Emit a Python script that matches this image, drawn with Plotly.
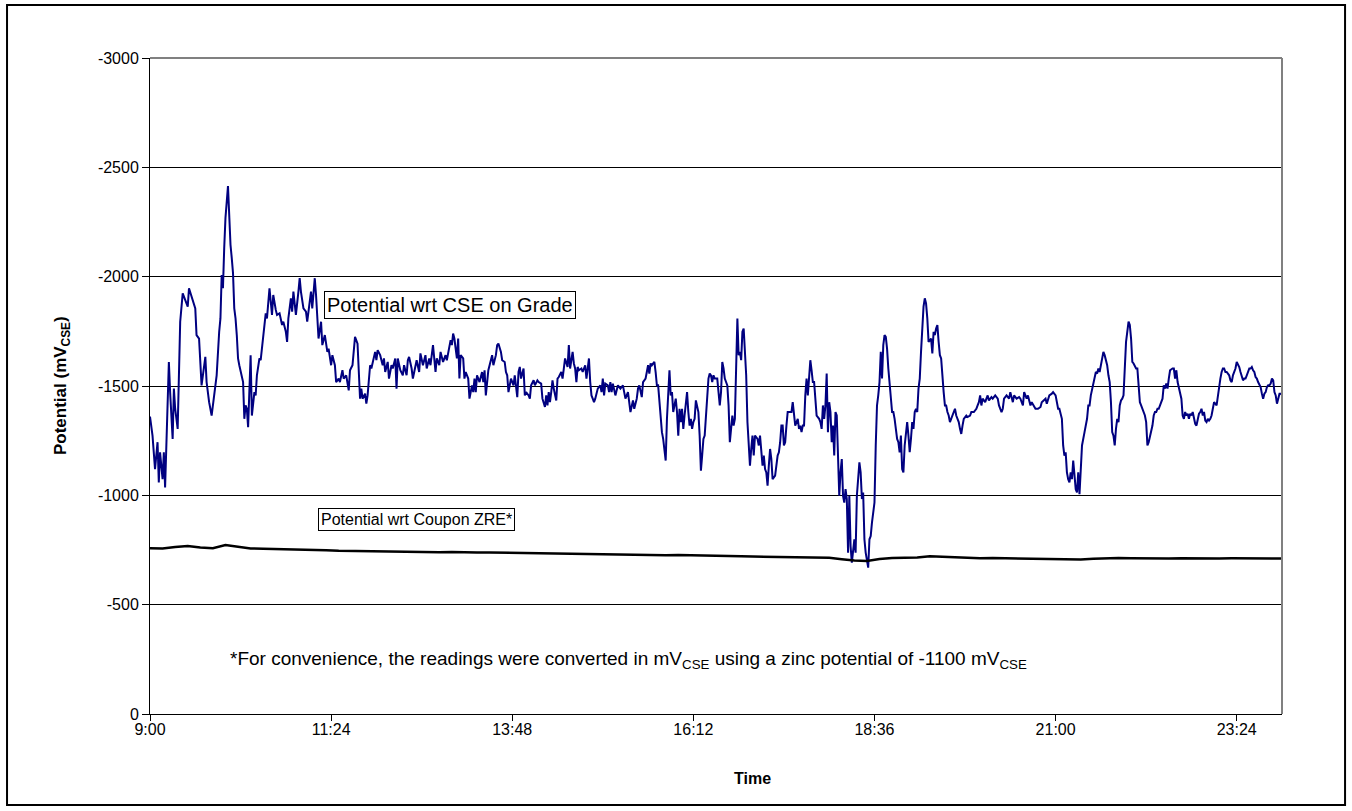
import pandas as pd
import plotly.graph_objects as go

# Pipe-to-soil potential logged from 09:00, elapsed time in minutes
grade_minutes = [
    0, 2, 4, 6, 7, 8, 10, 11, 12, 14, 15, 16, 18, 19, 20, 22, 23, 24, 26, 28,
    30, 31, 34, 36, 37, 39, 41, 43, 44, 45, 47, 49, 51, 53, 55, 56, 57, 58, 59, 60,
    62, 63, 64, 65, 66, 67, 68, 69, 70, 71, 73, 74, 75, 76, 77, 78, 80, 81, 83, 84,
    85, 87, 88, 89, 90, 92, 93, 95, 97, 98, 100, 101, 103, 105, 106, 108, 109, 110, 112, 113,
    114, 116, 118, 119, 120, 122, 124, 125, 126, 128, 129, 131, 132, 133, 134, 136, 137, 139, 141, 142,
    144, 145, 147, 148, 150, 151, 153, 154, 156, 158, 159, 161, 162, 163, 165, 166, 167, 168, 169, 171,
    172, 173, 175, 176, 178, 179, 180, 181, 183, 185, 186, 187, 189, 190, 192, 193, 195, 196, 197, 199,
    201, 202, 204, 205, 206, 208, 209, 211, 212, 214, 215, 217, 219, 220, 222, 223, 225, 227, 228, 230,
    231, 233, 235, 236, 238, 239, 240, 241, 242, 244, 245, 246, 247, 249, 250, 251, 253, 254, 256, 257,
    258, 259, 260, 262, 264, 265, 266, 267, 269, 270, 272, 273, 275, 276, 277, 279, 280, 282, 283, 284,
    285, 287, 289, 290, 292, 293, 294, 295, 297, 298, 299, 301, 302, 303, 305, 306, 308, 309, 311, 312,
    314, 315, 316, 317, 318, 319, 320, 321, 323, 324, 325, 327, 328, 329, 330, 332, 333, 334, 335, 336,
    337, 338, 339, 340, 341, 343, 344, 346, 347, 349, 350, 351, 352, 353, 354, 356, 358, 359, 360, 361,
    362, 364, 365, 366, 367, 368, 370, 371, 372, 374, 376, 377, 378, 380, 381, 382, 384, 385, 387, 388,
    389, 391, 392, 394, 395, 396, 397, 398, 399, 401, 402, 403, 404, 405, 406, 407, 408, 410, 411, 412,
    413, 414, 415, 416, 417, 418, 419, 420, 421, 422, 423, 424, 425, 427, 428, 429, 430, 431, 432, 433,
    434, 436, 437, 438, 439, 440, 441, 442, 443, 444, 445, 446, 447, 448, 449, 451, 452, 453, 454, 455,
    456, 457, 459, 460, 461, 463, 464, 465, 466, 467, 468, 469, 470, 471, 472, 473, 474, 475, 476, 477,
    478, 479, 480, 481, 483, 484, 485, 486, 487, 488, 489, 490, 491, 492, 493, 494, 495, 497, 498, 499,
    500, 501, 502, 503, 504, 505, 506, 507, 508, 509, 510, 511, 512, 513, 515, 516, 517, 518, 519, 520,
    521, 522, 523, 524, 525, 526, 527, 528, 529, 530, 532, 533, 534, 535, 536, 537, 538, 539, 540, 541,
    542, 543, 544, 545, 546, 547, 548, 549, 550, 551, 552, 553, 554, 555, 556, 557, 558, 560, 561, 562,
    563, 564, 565, 566, 567, 568, 569, 570, 571, 572, 573, 574, 576, 577, 578, 579, 580, 581, 582, 583,
    584, 585, 586, 587, 588, 589, 590, 591, 592, 594, 595, 596, 597, 598, 599, 600, 601, 602, 603, 604,
    605, 606, 607, 608, 609, 610, 611, 612, 613, 614, 615, 616, 617, 618, 619, 621, 622, 623, 624, 625,
    626, 627, 628, 629, 630, 631, 632, 633, 634, 635, 636, 638, 639, 640, 641, 642, 643, 644, 645, 646,
    647, 649, 650, 652, 653, 655, 657, 658, 659, 660, 661, 662, 664, 665, 666, 667, 669, 670, 672, 674,
    675, 677, 678, 679, 681, 683, 684, 686, 687, 689, 691, 692, 694, 695, 697, 698, 700, 701, 703, 704,
    706, 708, 709, 711, 712, 713, 715, 717, 718, 720, 721, 722, 723, 725, 726, 727, 728, 729, 730, 731,
    732, 733, 734, 735, 736, 737, 738, 739, 740, 741, 743, 744, 745, 746, 747, 748, 749, 750, 751, 752,
    753, 754, 755, 756, 757, 758, 759, 761, 762, 763, 764, 765, 766, 767, 768, 769, 770, 771, 772, 773,
    774, 775, 776, 778, 779, 780, 781, 782, 783, 784, 785, 786, 787, 788, 789, 790, 791, 792, 793, 794,
    796, 797, 798, 799, 800, 801, 802, 803, 804, 805, 806, 807, 808, 809, 810, 811, 813, 814, 815, 816,
    817, 818, 819, 820, 821, 822, 823, 824, 825, 826, 827, 828, 829, 831, 832, 833, 834, 835, 836, 837,
    838, 839, 840, 841, 842, 843, 844, 845, 846, 848, 849, 850, 851, 852, 853, 854, 855, 856, 857, 858,
    859, 860, 861, 862, 863, 864, 866, 867, 868, 869, 870, 871, 872, 873, 874, 875, 876, 877, 878, 879,
    880, 881, 883, 884, 885, 886, 887, 888, 889, 890, 891, 892, 893, 894, 895, 896, 897, 898, 899, 900,
]
grade_mv = [
    -1360, -1273, -1120, -1243, -1059, -1197, -1074, -1197, -1036, -1442, -1610, -1472, -1258, -1488, -1396, -1304, -1610, -1794, -1924, -1893,
    -1863, -1947, -1886, -1855, -1733, -1717, -1503, -1595, -1633, -1518, -1426, -1365, -1472, -1549, -1748, -1809, -2008, -1947, -2131, -2269,
    -2414, -2253, -2146, -2085, -2016, -1855, -1809, -1733, -1626, -1595, -1534, -1518, -1350, -1411, -1396, -1312, -1641, -1365, -1472, -1457,
    -1549, -1626, -1618, -1671, -1702, -1832, -1809, -1947, -1825, -1916, -1848, -1825, -1832, -1779, -1794, -1748, -1702, -1809, -1901, -1840,
    -1932, -1825, -1932, -1993, -1932, -1855, -1840, -1794, -1840, -1932, -1855, -1993, -1916, -1779, -1717, -1794, -1687, -1733, -1656, -1671,
    -1595, -1641, -1595, -1518, -1534, -1518, -1572, -1534, -1549, -1480, -1572, -1595, -1687, -1725, -1694, -1595, -1442, -1488, -1442, -1465,
    -1419, -1457, -1595, -1580, -1641, -1656, -1618, -1664, -1641, -1595, -1626, -1564, -1610, -1534, -1595, -1580, -1626, -1488, -1626, -1572,
    -1549, -1595, -1549, -1618, -1633, -1580, -1534, -1595, -1618, -1564, -1649, -1595, -1641, -1580, -1626, -1595, -1687, -1564, -1626, -1595,
    -1656, -1610, -1641, -1618, -1671, -1710, -1687, -1740, -1717, -1626, -1717, -1534, -1641, -1626, -1534, -1564, -1534, -1442, -1503, -1472,
    -1534, -1472, -1549, -1518, -1564, -1518, -1572, -1457, -1572, -1595, -1641, -1595, -1641, -1687, -1694, -1656, -1618, -1610, -1564, -1549,
    -1472, -1534, -1503, -1549, -1449, -1564, -1587, -1534, -1580, -1457, -1472, -1457, -1442, -1503, -1526, -1503, -1526, -1518, -1511, -1442,
    -1404, -1457, -1411, -1472, -1426, -1472, -1526, -1488, -1434, -1534, -1541, -1564, -1534, -1580, -1626, -1587, -1687, -1580, -1626, -1656,
    -1603, -1580, -1518, -1587, -1572, -1580, -1564, -1595, -1534, -1626, -1518, -1457, -1442, -1426, -1442, -1488, -1503, -1472, -1534, -1457,
    -1511, -1503, -1472, -1518, -1472, -1511, -1457, -1488, -1503, -1488, -1503, -1472, -1442, -1472, -1426, -1381, -1434, -1396, -1442, -1488,
    -1503, -1449, -1518, -1534, -1564, -1595, -1557, -1603, -1595, -1610, -1564, -1503, -1503, -1426, -1350, -1289, -1258, -1159, -1350, -1472,
    -1572, -1457, -1472, -1381, -1411, -1442, -1381, -1273, -1396, -1335, -1396, -1304, -1365, -1472, -1381, -1319, -1350, -1304, -1335, -1350,
    -1434, -1381, -1273, -1113, -1182, -1258, -1273, -1365, -1457, -1534, -1557, -1549, -1518, -1549, -1534, -1534, -1472, -1411, -1472, -1610,
    -1580, -1534, -1503, -1411, -1243, -1365, -1319, -1350, -1580, -1809, -1641, -1656, -1618, -1748, -1763, -1656, -1549, -1335, -1197, -1136,
    -1212, -1273, -1182, -1273, -1258, -1228, -1273, -1197, -1136, -1182, -1120, -1105, -1044, -1136, -1212, -1166, -1074, -1090, -1136, -1182,
    -1197, -1243, -1319, -1319, -1228, -1243, -1319, -1381, -1381, -1381, -1381, -1426, -1350, -1319, -1350, -1304, -1319, -1289, -1319, -1319,
    -1457, -1534, -1457, -1564, -1618, -1572, -1518, -1518, -1442, -1365, -1350, -1335, -1304, -1411, -1350, -1411, -1557, -1289, -1426, -1381,
    -1243, -1319, -1182, -1381, -1365, -1182, -998, -1105, -1166, -998, -967, -1028, -983, -738, -998, -768, -692, -799, -738, -998,
    -1074, -1151, -1105, -983, -1013, -799, -738, -707, -669, -799, -814, -875, -967, -1228, -1411, -1457, -1518, -1656, -1534, -1687,
    -1733, -1725, -1671, -1580, -1518, -1442, -1381, -1381, -1350, -1258, -1243, -1197, -1273, -1120, -1105, -1228, -1273, -1335, -1273, -1197,
    -1258, -1335, -1304, -1381, -1396, -1381, -1488, -1534, -1656, -1794, -1863, -1901, -1878, -1809, -1702, -1717, -1649, -1748, -1733, -1763,
    -1779, -1702, -1641, -1626, -1534, -1472, -1411, -1411, -1381, -1365, -1335, -1365, -1381, -1396, -1365, -1350, -1335, -1304, -1281, -1319,
    -1350, -1365, -1358, -1365, -1381, -1381, -1396, -1411, -1426, -1457, -1411, -1442, -1426, -1442, -1457, -1434, -1449, -1442, -1457, -1442,
    -1411, -1381, -1396, -1442, -1457, -1442, -1472, -1426, -1457, -1442, -1449, -1442, -1411, -1472, -1442, -1457, -1411, -1426, -1404, -1396,
    -1396, -1404, -1426, -1434, -1442, -1419, -1457, -1465, -1472, -1457, -1426, -1396, -1396, -1350, -1228, -1182, -1197, -1105, -1074, -1059,
    -1105, -1074, -1159, -1105, -1028, -1013, -1105, -1005, -1105, -1228, -1289, -1319, -1350, -1411, -1411, -1457, -1488, -1518, -1534, -1564,
    -1557, -1580, -1564, -1595, -1626, -1656, -1641, -1595, -1549, -1518, -1426, -1289, -1273, -1228, -1304, -1350, -1335, -1411, -1434, -1442,
    -1457, -1580, -1702, -1794, -1779, -1717, -1610, -1603, -1587, -1580, -1580, -1503, -1426, -1411, -1396, -1381, -1365, -1335, -1228, -1243,
    -1289, -1319, -1365, -1381, -1381, -1396, -1396, -1411, -1426, -1442, -1503, -1488, -1511, -1488, -1534, -1572, -1580, -1580, -1534, -1572,
    -1518, -1488, -1457, -1442, -1365, -1350, -1381, -1365, -1373, -1350, -1373, -1365, -1381, -1327, -1319, -1342, -1373, -1381, -1396, -1365,
    -1381, -1342, -1335, -1350, -1342, -1350, -1365, -1396, -1426, -1411, -1457, -1488, -1534, -1564, -1580, -1580, -1564, -1564, -1557, -1549,
    -1526, -1518, -1549, -1564, -1580, -1610, -1587, -1564, -1541, -1526, -1534, -1534, -1549, -1564, -1580, -1580, -1587, -1572, -1564, -1541,
    -1534, -1518, -1495, -1465, -1442, -1465, -1472, -1495, -1503, -1503, -1511, -1534, -1526, -1472, -1457, -1419, -1442, -1465, -1465, -1460,
]

# Coupon reading (zinc reference), converted to mV CSE, every 10 minutes
coupon_minutes = list(range(0, 901, 10))
coupon_mv = [
    -758, -757, -764, -768, -761, -758, -773, -765, -757, -756,
    -755, -754, -753, -752, -749, -746, -745, -744, -745, -743,
    -742, -743, -741, -740, -741, -739, -738, -739, -738, -737,
    -736, -735, -733, -734, -731, -730, -731, -729, -728, -729,
    -727, -726, -727, -725, -724, -723, -722, -721, -720, -720,
    -719, -720, -718, -717, -714, -708, -702, -700, -709, -713,
    -714, -716, -721, -719, -714, -713, -712, -713, -712, -713,
    -712, -711, -709, -706, -707, -710, -712, -713, -712, -711,
    -712, -711, -712, -711, -712, -711, -712, -711, -712, -711,
    -711,
]

time_ticks = ["9:00", "11:24", "13:48", "16:12", "18:36", "21:00", "23:24"]
y_ticks = [0, -500, -1000, -1500, -2000, -2500, -3000]

start = pd.Timestamp("2000-01-01 09:00")
grade_t = start + pd.to_timedelta(grade_minutes, unit="min")
coupon_t = start + pd.to_timedelta(coupon_minutes, unit="min")
tick_t = [start + pd.Timedelta(minutes=144 * i) for i in range(len(time_ticks))]
end_t = start + pd.Timedelta(hours=15)

FONT = "Arial, Liberation Sans, sans-serif"

fig = go.Figure()
fig.add_trace(go.Scatter(
    x=grade_t, y=grade_mv, mode="lines",
    line=dict(color="#000080", width=2), showlegend=False,
))
fig.add_trace(go.Scatter(
    x=coupon_t, y=coupon_mv, mode="lines",
    line=dict(color="#000000", width=2.5), showlegend=False,
))

fig.update_layout(
    width=1352, height=811,
    margin=dict(l=150, r=70, t=58, b=97),
    paper_bgcolor="white", plot_bgcolor="white",
    font=dict(family=FONT, size=16, color="black"),
    xaxis=dict(
        range=[start, end_t], tickvals=tick_t, ticktext=time_ticks,
        ticks="outside", ticklen=6, tickcolor="black",
        tickfont=dict(size=16), ticklabelstandoff=-5,
        showline=True, linecolor="black", linewidth=1,
        showgrid=False, zeroline=False,
    ),
    yaxis=dict(
        range=[0, -3000], tickvals=y_ticks, ticktext=[str(v) for v in y_ticks],
        ticks="outside", ticklen=7, tickcolor="black",
        tickfont=dict(size=16),
        showline=True, linecolor="black", linewidth=1,
        showgrid=True, gridcolor="black", gridwidth=1, zeroline=False,
    ),
    shapes=[
        # plot-area frame on top and right
        dict(type="line", xref="paper", yref="paper", x0=0, x1=1, y0=1, y1=1,
             line=dict(color="#808080", width=2), layer="above"),
        dict(type="line", xref="paper", yref="paper", x0=1, x1=1, y0=0, y1=1,
             line=dict(color="#808080", width=2), layer="above"),
        # chart frame
        dict(type="rect", xref="paper", yref="paper",
             x0=-0.1263, x1=1.0557, y0=-0.1387, y1=1.0808,
             line=dict(color="black", width=2)),
    ],
    annotations=[
        dict(text="<b>Potential (mV<sub>CSE</sub>)</b>", xref="paper", yref="paper",
             x=-0.0777, y=0.5, textangle=-90, showarrow=False,
             xanchor="center", yanchor="middle", font=dict(size=17)),
        dict(text="<b>Time</b>", xref="paper", yref="paper",
             x=0.532, y=-0.098, showarrow=False,
             xanchor="center", yanchor="middle", font=dict(size=16)),
        dict(text="Potential wrt CSE on Grade", xref="paper", yref="paper",
             x=0.1537, y=0.6235, xanchor="left", yanchor="middle", showarrow=False,
             font=dict(size=20), bordercolor="black", borderwidth=1, borderpad=2,
             bgcolor="white"),
        dict(text="Potential wrt Coupon ZRE*", xref="paper", yref="paper",
             x=0.1484, y=0.2965, xanchor="left", yanchor="middle", showarrow=False,
             font=dict(size=16), bordercolor="black", borderwidth=1,
             borderpad=2, bgcolor="white"),
        dict(text="*For convenience, the readings were converted in mV<sub>CSE</sub> "
                  "using a zinc potential of -1100 mV<sub>CSE</sub>",
             xref="paper", yref="paper", x=0.0689, y=0.0823,
             xanchor="left", yanchor="middle", showarrow=False, font=dict(size=19)),
    ],
)

fig.write_html("out.html")
